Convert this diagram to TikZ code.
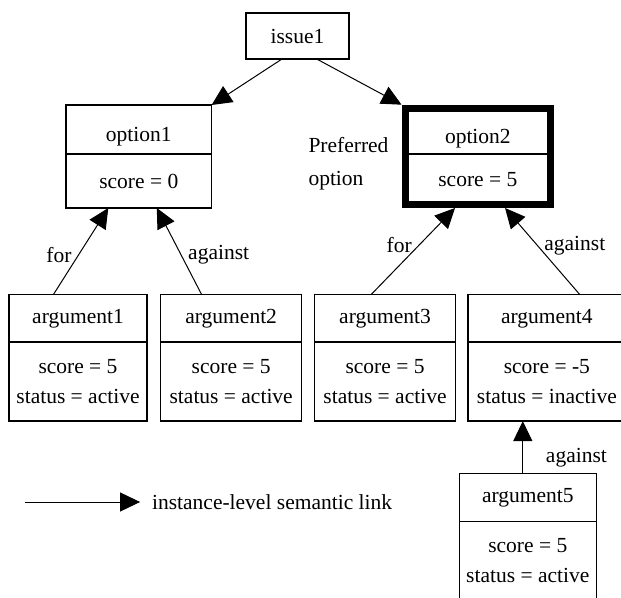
\documentclass[tikz,border=0pt]{standalone}
\usepackage{fontspec}
\setmainfont{Liberation Serif}
\usetikzlibrary{positioning,fit,arrows.meta}

\begin{document}
\begin{tikzpicture}[%
	x=0.5pt, y=-0.5pt,
	font=\fontsize{10.75pt}{15pt}\selectfont,
	box/.style={draw, rectangle, line width=0.6pt, outer sep=0pt, inner sep=1pt, align=center},
	optionhead/.style={box, minimum width=72.8pt, text height=14.5pt, text depth=2.5pt},
	head/.style={box, minimum width=#1, minimum height=23.7pt},
	body/.style={box, minimum width=#1, minimum height=39.5pt},
	link/.style={-{Triangle[length=10pt, width=9.5pt]}, line width=0.5pt},
	preferred/.style={draw, line width=3.5pt, inner sep=0pt}
	]
	\path[use as bounding box, clip] (0,0) rectangle (621,598);
	
	\node[box, minimum width=51.5pt, minimum height=23pt] (issue1) at (297.5,36) {issue1};
	
	% options
	\node[optionhead, minimum height=24.5pt] (opt1) at (138.8,129.5) {option1};
	\node[box, minimum width=72.8pt, minimum height=27pt, below=0pt of opt1] (opt1b) {score = 0};
	
	\node[optionhead, minimum height=22.9pt] (opt2) at (477.85,131.1) {option2};
	\node[box, minimum width=72.8pt, minimum height=25.25pt, below=0pt of opt2] (opt2b) {score = 5};
	\node[preferred, fit=(opt2)(opt2b)] (opt2box) {};
	\node[left=3pt of opt2box, yshift=-3.5pt, align=left] (pref) {Preferred\\[1.5pt]option};
	
	% arguments
	\node[head=69pt] (arg1) at (78,318.4) {argument1};
	\node[body=69pt, below=0pt of arg1] (arg1b) {score = 5\\status = active};
	
	\node[head=70.5pt] (arg2) at (231.2,318.4) {argument2};
	\node[body=70.5pt, below=0pt of arg2] (arg2b) {score = 5\\status = active};
	
	\node[head=70.7pt] (arg3) at (385,318.4) {argument3};
	\node[body=70.7pt, below=0pt of arg3] (arg3b) {score = 5\\status = active};
	
	\node[head=79pt] (arg4) at (546.9,318.4) {argument4};
	\node[body=79pt, below=0pt of arg4] (arg4b) {score = -5\\status = inactive};
	
	\node[head=68.5pt] (arg5) at (527.8,497.4) {argument5};
	\node[body=68.5pt, below=0pt of arg5] (arg5b) {score = 5\\status = active};
	
	% links
	\draw[link] ([xshift=-7.75pt]issue1.south) -- (opt1.north east);
	\draw[link] ([xshift=9.6pt]issue1.south) -- (opt2box.north west);
	
	\draw[link] ([xshift=-12.35pt]arg1.north) -- node[pos=0.46, left] {for} ([xshift=-15.25pt]opt1b.south);
	\draw[link] ([xshift=-14.75pt]arg2.north) -- node[pos=0.46, right] {against} ([xshift=9pt]opt1b.south);
	\draw[link] ([xshift=-7pt]arg3.north) -- node[pos=0.57, left] {for} ([xshift=-11.4pt]opt2box.south);
	\draw[link] ([xshift=16.5pt]arg4.north) -- node[pos=0.57, right] {against} ([xshift=13.6pt]opt2box.south);
	\draw[link] ([xshift=-2.5pt]arg5.north) -- node[pos=0.3, right=8pt] {against} ([xshift=-2.5pt]arg5.north |- arg4b.south);
	
	% legend
	\coordinate (legstart) at (25,502);
	\node[anchor=west, inner sep=0pt] (legend) at (151.7,502) {instance-level semantic link};
	\draw[link] (legstart) -- ([xshift=-5.8pt]legend.west);
\end{tikzpicture}
\end{document}
